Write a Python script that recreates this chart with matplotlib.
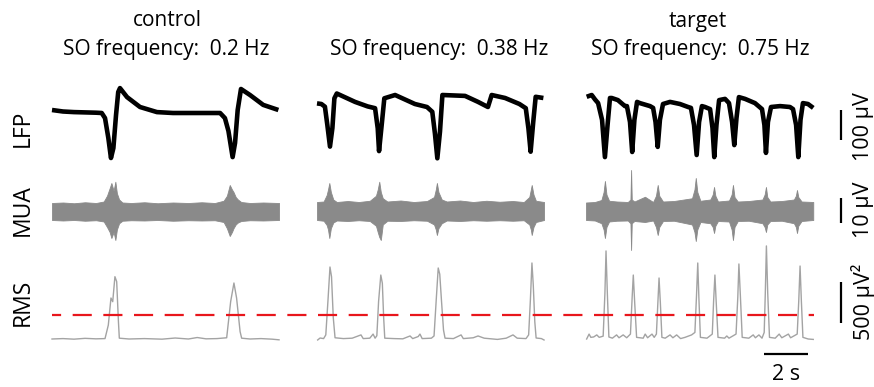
import matplotlib
matplotlib.use("Agg")
import matplotlib.pyplot as plt

# ---------------- data ----------------
panel_titles = ["control", "", "target"]
so_labels = ["SO frequency:  0.2 Hz", "SO frequency:  0.38 Hz", "SO frequency:  0.75 Hz"]
row_labels = ["LFP", "MUA", "RMS"]

# LFP traces (time in s, value in µV)
lfp_ctrl_t = [0.0, 0.5, 1.0, 1.5, 2.0, 2.26, 2.41, 2.56, 2.68, 2.79, 2.91, 3.01, 3.09, 3.41, 4.0, 4.77,
              5.5, 6.2, 7.0, 7.64, 7.86, 8.02, 8.21, 8.32, 8.44, 8.59, 9.0, 9.6, 10.29]
lfp_ctrl_v = [10, 5, 3, 2, 1, 0, -17, -83, -150, -117, -7, 70, 83, 53, 20, 3,
              0, 0, 0, 0, -17, -60, -147, -100, 10, 80, 60, 27, 10]

lfp_mid_t = [0.0, 0.2, 0.36, 0.47, 0.59, 0.7, 0.79, 0.9, 1.73, 2.3, 2.64, 2.76, 2.82, 2.94, 3.06,
             3.55, 4.45, 5.0, 5.24, 5.36, 5.47, 5.59, 5.7, 6.73, 7.32, 7.77, 7.94, 8.55, 9.2,
             9.49, 9.61, 9.71, 9.83, 9.94, 10.29]
lfp_mid_v = [32, 30, 21, -40, -112, -50, 49, 65, 37, 22, 16, -51, -127, -40, 49,
             60, 30, 20, 4, -68, -151, -62, 60, 57, 37, 20, 60, 50, 30,
             16, -51, -129, -29, 54, 50]

lfp_tgt_t = [0.03, 0.26, 0.41, 0.55, 0.73, 0.86, 0.98, 1.09, 1.17, 1.45, 1.77, 1.86, 2.0, 2.1, 2.2,
             2.32, 2.45, 2.91, 3.05, 3.16, 3.26, 3.36, 3.5, 3.82, 4.27, 4.64, 4.77, 4.91, 5.03,
             5.14, 5.27, 5.41, 5.64, 5.75, 5.83, 5.93, 6.05, 6.32, 6.5, 6.64, 6.74, 6.84, 6.95,
             7.23, 7.68, 8.0, 8.11, 8.18, 8.27, 8.41, 8.82, 9.27, 9.41, 9.55, 9.65, 9.75, 9.86,
             10.09, 10.33]
lfp_tgt_v = [54, 60, 45, 33, -23, -147, -40, 50, 50, 43, 23, 23, -30, -130, -23,
             37, 33, 23, 17, -30, -113, -23, 30, 37, 30, 20, 17, -40, -140,
             -30, 23, 20, 13, -50, -147, -40, 43, 47, 33, -30, -107, -17, 53,
             47, 33, 13, -40, -133, -30, 20, 23, 20, 13, -40, -147, -23, 33,
             30, 17]

# MUA envelopes (time in s, upper / lower value in µV)
mua_ctrl_t = [0.0, 0.5, 1.0, 1.5, 2.0, 2.35, 2.5, 2.62, 2.7, 2.8, 2.88, 2.95, 3.05, 3.2, 3.6, 4.2,
              4.8, 5.5, 6.2, 6.8, 7.4, 7.8, 7.95, 8.08, 8.18, 8.25, 8.35, 8.45, 8.6, 9.0, 9.6, 10.32]
mua_ctrl_hi = [3.6, 3.8, 3.5, 3.9, 3.6, 4.2, 6.5, 9.5, 11.6, 8.5, 12.1, 7.5, 5.0, 3.8, 3.6, 3.9,
               3.5, 3.8, 3.6, 3.9, 3.6, 4.5, 6.5, 10.8, 9.0, 8.0, 6.0, 5.0, 4.0, 3.6, 3.8, 3.6]
mua_ctrl_lo = [-3.2, -3.4, -3.2, -3.5, -3.3, -3.8, -6.0, -8.0, -10.4, -8.0, -11.2, -7.0, -4.5, -3.5,
               -3.3, -3.4, -3.2, -3.5, -3.3, -3.4, -3.3, -4.0, -6.5, -9.6, -8.0, -6.5, -5.0, -4.2,
               -3.6, -3.3, -3.4, -3.2]

mua_mid_t = [0.0, 0.3, 0.44, 0.5, 0.56, 0.63, 0.74, 0.9, 1.4, 1.9, 2.4, 2.68, 2.76, 2.83, 2.9,
             2.99, 3.2, 3.8, 4.4, 5.0, 5.32, 5.4, 5.45, 5.52, 5.67, 5.9, 6.5, 7.1, 7.7, 8.3,
             8.9, 9.4, 9.65, 9.72, 9.76, 9.84, 9.95, 10.32]
mua_mid_hi = [4.0, 4.2, 6.8, 9.0, 11.6, 8.0, 5.0, 4.0, 4.4, 4.0, 4.5, 6.5, 9.0, 12.1, 8.0,
              5.5, 4.2, 4.6, 4.0, 4.4, 6.0, 9.0, 11.6, 8.0, 5.0, 4.2, 4.6, 4.0, 4.5, 4.1,
              4.4, 4.0, 6.0, 9.0, 10.8, 7.0, 4.5, 4.0]
mua_mid_lo = [-3.2, -3.5, -5.2, -7.0, -10.4, -6.5, -4.2, -3.4, -3.6, -3.3, -3.6, -5.5, -8.0, -10.0,
              -11.2, -5.0, -3.5, -3.6, -3.3, -3.5, -5.0, -7.0, -9.2, -6.5, -4.5, -3.4, -3.6, -3.3,
              -3.5, -3.3, -3.5, -3.3, -5.0, -7.0, -9.2, -6.0, -4.0, -3.2]

mua_tgt_t = [0.0, 0.4, 0.7, 0.8, 0.86, 0.93, 1.05, 1.4, 1.9, 2.02, 2.05, 2.08, 2.2, 2.68, 3.05,
             3.18, 3.26, 3.33, 3.5, 4.0, 4.82, 4.93, 4.99, 5.06, 5.2, 5.65, 5.76, 5.82, 5.88,
             6.0, 6.5, 6.62, 6.68, 6.75, 6.9, 7.4, 8.02, 8.12, 8.18, 8.24, 8.38, 8.9, 9.45,
             9.54, 9.59, 9.65, 9.8, 10.33]
mua_tgt_hi = [3.8, 4.0, 4.8, 8.0, 12.4, 7.0, 4.5, 4.2, 4.0, 5.0, 16.8, 5.0, 4.2, 6.1, 4.0,
              6.5, 10.8, 6.5, 4.2, 4.4, 5.5, 9.0, 13.6, 8.0, 4.5, 5.0, 7.0, 10.0, 6.5,
              4.2, 4.6, 7.0, 10.8, 6.0, 4.2, 4.4, 5.0, 7.0, 10.0, 6.0, 4.2, 4.4, 5.0,
              6.5, 8.8, 6.0, 4.2, 4.0]
mua_tgt_lo = [-3.2, -3.4, -4.5, -7.0, -10.4, -6.0, -3.8, -3.5, -3.4, -4.5, -15.2, -4.5, -3.6, -4.0,
              -3.4, -6.0, -9.2, -6.0, -3.6, -3.5, -5.0, -8.0, -11.6, -7.0, -4.0, -4.5, -6.0, -8.4,
              -5.5, -3.6, -3.8, -7.0, -11.2, -6.0, -3.6, -3.5, -4.5, -6.0, -8.0, -5.0, -3.6, -3.5,
              -4.5, -6.0, -8.4, -5.5, -3.6, -3.2]

# RMS traces (time in s, value in µV²)
rms_ctrl_t = [0.0, 0.5, 1.0, 1.5, 2.0, 2.41, 2.56, 2.68, 2.76, 2.86, 2.94, 3.02, 3.06, 3.5, 4.2, 5.0,
              5.6, 6.2, 6.6, 7.0, 7.5, 7.94, 8.12, 8.27, 8.39, 8.55, 8.62, 9.0, 9.5, 10.0, 10.32]
rms_ctrl_v = [40, 45, 38, 48, 42, 45, 210, 540, 495, 800, 740, 250, 50, 40, 45, 38,
              52, 40, 58, 42, 45, 55, 495, 723, 540, 130, 50, 40, 45, 38, 30]

rms_mid_t = [0.03, 0.14, 0.3, 0.4, 0.5, 0.59, 0.66, 0.74, 0.82, 1.2, 1.6, 2.0, 2.1, 2.4, 2.55, 2.64,
             2.72, 2.8, 2.9, 2.97, 3.03, 3.08, 3.5, 3.9, 4.23, 4.35, 4.6, 4.68, 4.78, 5.2, 5.32,
             5.42, 5.51, 5.58, 5.66, 5.75, 5.82, 6.2, 6.55, 6.65, 7.1, 7.32, 7.6, 8.2, 8.6, 8.91,
             9.1, 9.5, 9.62, 9.7, 9.77, 9.83, 9.9, 9.96, 10.2, 10.32]
rms_mid_v = [28, 52, 45, 90, 515, 918, 800, 300, 55, 45, 50, 90, 45, 50, 100, 50,
             80, 500, 820, 720, 300, 50, 45, 42, 77, 45, 70, 100, 45, 50, 77,
             520, 906, 830, 500, 150, 50, 45, 90, 45, 55, 77, 50, 35, 50, 90,
             50, 45, 90, 520, 967, 700, 250, 52, 45, 28]

rms_tgt_t = [0.03, 0.14, 0.22, 0.35, 0.49, 0.6, 0.78, 0.86, 0.91, 0.97, 1.04, 1.2, 1.39, 1.5, 1.69,
             1.85, 2.02, 2.1, 2.15, 2.21, 2.3, 2.6, 2.69, 2.8, 3.0, 3.1, 3.2, 3.27, 3.32, 3.38,
             3.45, 3.6, 3.82, 3.95, 4.12, 4.3, 4.5, 4.8, 4.95, 5.02, 5.08, 5.13, 5.2, 5.5, 5.74,
             5.8, 5.86, 5.92, 6.0, 6.3, 6.4, 6.5, 6.82, 6.9, 6.95, 7.02, 7.1, 7.4, 7.6, 7.7,
             7.86, 8.0, 8.1, 8.15, 8.2, 8.26, 8.34, 8.6, 8.78, 8.9, 9.2, 9.3, 9.6, 9.67, 9.73,
             9.79, 9.86, 10.1, 10.33]
rms_tgt_v = [40, 100, 60, 65, 90, 60, 75, 600, 1114, 600, 65, 50, 90, 55, 90,
             55, 100, 560, 820, 500, 60, 50, 100, 55, 100, 60, 100, 500, 784, 480,
             60, 50, 90, 55, 90, 45, 60, 90, 120, 550, 967, 550, 60, 50, 100,
             500, 820, 480, 60, 50, 77, 50, 100, 550, 955, 550, 60, 50, 90, 55,
             90, 50, 120, 600, 1175, 600, 60, 50, 100, 55, 100, 55, 100, 500, 930,
             500, 60, 40, 35]

rms_threshold = 330          # µV²
scale_lfp = 100              # µV
scale_mua = 10               # µV
scale_rms = 500              # µV²
scale_time = 2               # s

# ---------------- layout ----------------
W, H = 874, 387
PX_PER_S = 22.0
X0_PX = 52.0
panel_start_px = [52.0, 317.0, 586.0]
panel_offsets = [(p - X0_PX) / PX_PER_S for p in panel_start_px]

fig = plt.figure(figsize=(W / 100, H / 100), dpi=100)
FONT = ["Open Sans", "DejaVu Sans"]
plt.rcParams["font.family"] = FONT


def row_axes(top_px, bot_px, ref_px, ref_val, px_per_unit):
    ax = fig.add_axes([0, 1 - bot_px / H, 1, (bot_px - top_px) / H])
    ax.set_xlim(-X0_PX / PX_PER_S, (W - X0_PX) / PX_PER_S)
    ax.set_ylim(ref_val + (ref_px - bot_px) / px_per_unit, ref_val + (ref_px - top_px) / px_per_unit)
    ax.axis("off")
    return ax


ax_lfp = row_axes(60, 180, 113, 0.0, 30 / 100)
ax_mua = row_axes(165, 260, 212, 0.0, 25 / 10)
ax_rms = row_axes(235, 387, 339, 40.0, 41 / 500)

lfp_sets = [(lfp_ctrl_t, lfp_ctrl_v), (lfp_mid_t, lfp_mid_v), (lfp_tgt_t, lfp_tgt_v)]
mua_sets = [(mua_ctrl_t, mua_ctrl_hi, mua_ctrl_lo), (mua_mid_t, mua_mid_hi, mua_mid_lo),
            (mua_tgt_t, mua_tgt_hi, mua_tgt_lo)]
rms_sets = [(rms_ctrl_t, rms_ctrl_v), (rms_mid_t, rms_mid_v), (rms_tgt_t, rms_tgt_v)]

for off, (t, v) in zip(panel_offsets, lfp_sets):
    ax_lfp.plot([off + x for x in t], v, color="black", lw=3.3,
                solid_joinstyle="round", solid_capstyle="butt")
for off, (t, hi, lo) in zip(panel_offsets, mua_sets):
    ax_mua.fill_between([off + x for x in t], lo, hi, color="#8a8a8a", lw=0.6, edgecolor="#8a8a8a")
for off, (t, v) in zip(panel_offsets, rms_sets):
    ax_rms.plot([off + x for x in t], v, color="#a3a3a3", lw=1.0)

# threshold line
t_end = (814 - X0_PX) / PX_PER_S
ax_rms.plot([0, t_end], [rms_threshold, rms_threshold], color="#e8161c", lw=1.6,
            linestyle=(4.5, (8.6, 5.2)))

# scale bars
xb = (841 - X0_PX) / PX_PER_S
ax_lfp.plot([xb, xb], [-90, -90 + scale_lfp], color="black", lw=1.6, solid_capstyle="butt")
ax_mua.plot([xb, xb], [-4.4, -4.4 + scale_mua], color="black", lw=1.6, solid_capstyle="butt")
ax_rms.plot([xb, xb], [235, 235 + scale_rms], color="black", lw=1.6, solid_capstyle="butt")
tb0 = (764 - X0_PX) / PX_PER_S
ax_rms.plot([tb0, tb0 + scale_time], [-143, -143], color="black", lw=1.6,
            solid_capstyle="butt", clip_on=False)


def ftext(x_px, y_px, s, **kw):
    fig.text(x_px / W, 1 - y_px / H, s, **kw)


TS = 15
for i, cx in enumerate([166, 439, 700]):
    if panel_titles[i]:
        ftext([167, 439, 697.5][i], 26.5, panel_titles[i], ha="center", va="baseline", fontsize=TS)
    ftext(cx, 55, so_labels[i], ha="center", va="baseline", fontsize=TS)

for lab, cy in zip(row_labels, [128, 210, 302]):
    ftext(23, cy, lab, ha="center", va="center", rotation=90, fontsize=16.5)

for lab, cy in zip([f"{scale_lfp} µV", f"{scale_mua} µV", f"{scale_rms} µV²"], [127, 210, 302]):
    ftext(863, cy, lab, ha="center", va="center", rotation=90, fontsize=15.5)
ftext(786, 375, f"{scale_time} s", ha="center", va="center", fontsize=15.5)

fig.savefig("out.png", dpi=100)
